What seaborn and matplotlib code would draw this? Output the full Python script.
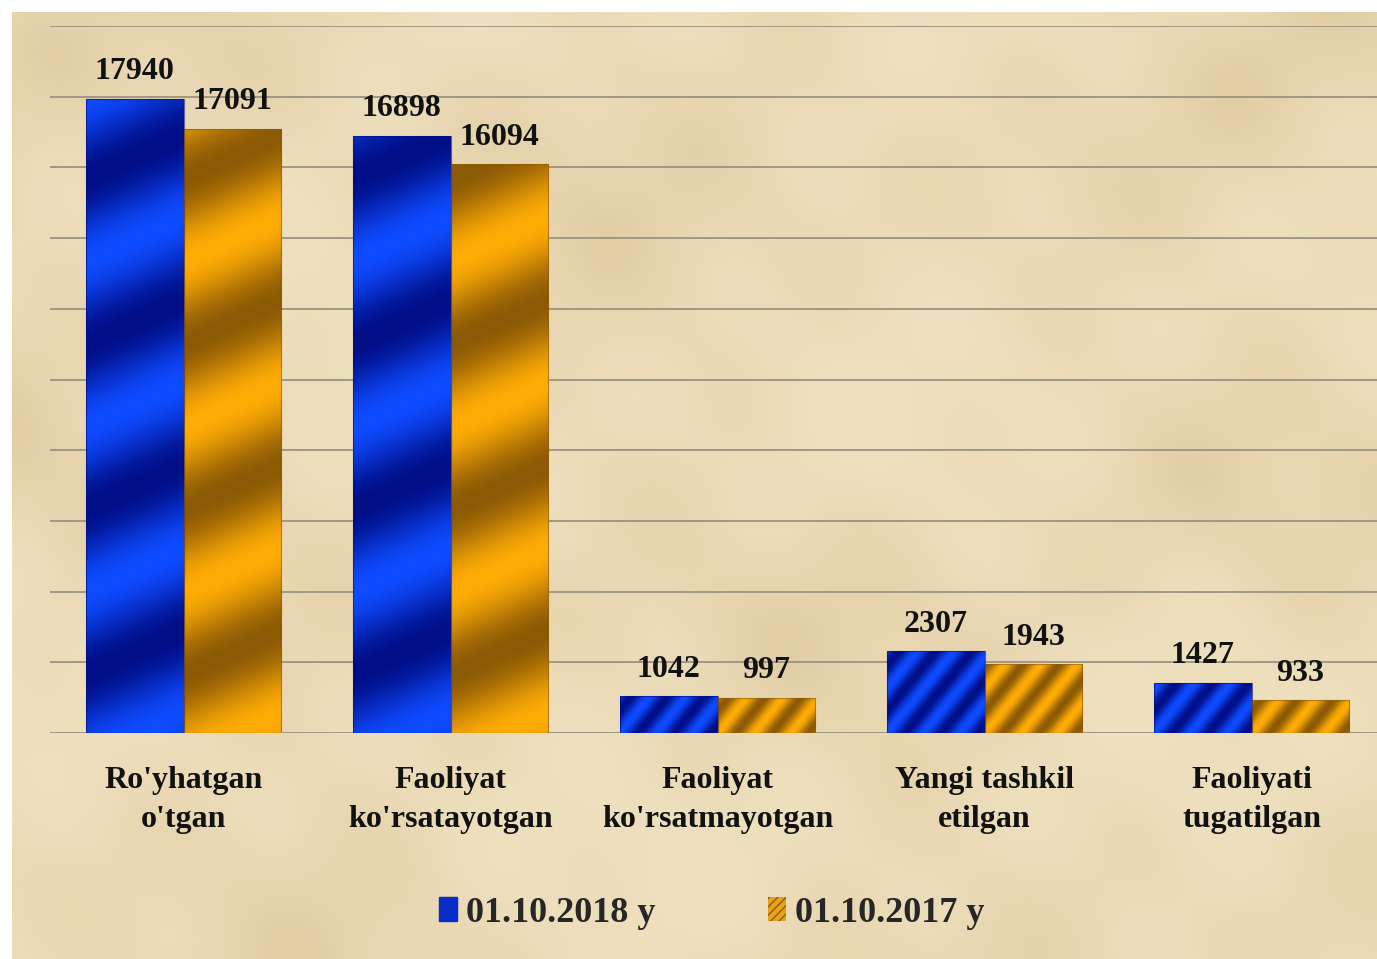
import numpy as np
import pandas as pd
import seaborn as sns
import matplotlib.pyplot as plt
from matplotlib.patches import Patch

# data
categories = ["Ro'yhatgan\no'tgan", "Faoliyat\nko'rsatayotgan", "Faoliyat\nko'rsatmayotgan",
              "Yangi tashkil\netilgan", "Faoliyati\ntugatilgan"]
periods = ["01.10.2018 y", "01.10.2017 y"]
values_2018 = [17940, 16898, 1042, 2307, 1427]
values_2017 = [17091, 16094, 997, 1943, 933]

df = pd.DataFrame({
    "category": categories * 2,
    "period": [periods[0]] * 5 + [periods[1]] * 5,
    "value": values_2018 + values_2017,
})

sns.set_theme(style="white")
plt.rcParams["font.family"] = ["Liberation Serif", "DejaVu Serif"]
plt.rcParams["font.weight"] = "bold"

W, H = 1377, 959
fig = plt.figure(figsize=(W / 100, H / 100), dpi=100, facecolor="white")

# parchment background
bg = fig.add_axes([12 / W, 0, 1 - 12 / W, 1 - 12 / H], zorder=-10)
yy, xx = np.mgrid[0:240, 0:340] / 40.0
mott = (np.sin(xx * 1.7 + np.sin(yy * 0.9) * 2) + np.sin(yy * 2.3 + np.cos(xx * 0.7) * 1.5)
        + 0.6 * np.sin(xx * 4.1 + yy * 3.3) + 0.5 * np.cos(xx * 5.3 - yy * 4.7)) / 3.1
base = np.array([239, 225, 192]) / 255
spot = np.array([226, 205, 164]) / 255
t = np.clip(0.5 + 0.5 * mott, 0, 1)[..., None] ** 1.6
bg.imshow(base * (1 - t) + spot * t, aspect="auto", interpolation="bicubic")
bg.axis("off")

ax = fig.add_axes([50 / W, (H - 733) / H, (W - 50) / W, (733 - 26) / H])
ax.set_facecolor("none")
sns.barplot(data=df, x="category", y="value", hue="period", palette=["#0033ee", "#f0a000"],
            width=0.73, gap=0, saturation=1, legend=False, ax=ax, zorder=3)

ax.set_ylim(0, 20000)
ax.set_xlim(-0.5, 4.47)
ax.set_yticks(range(0, 20001, 2000))
ax.set_yticklabels([])
ax.yaxis.grid(True, color="#9a9282", linewidth=1.3)
ax.xaxis.grid(False)
ax.set_axisbelow(True)
for s in ax.spines.values():
    s.set_visible(False)
ax.tick_params(axis="both", length=0)
ax.tick_params(axis="x", pad=24)
ax.set_xlabel("")
ax.set_ylabel("")
for lbl in ax.get_xticklabels():
    lbl.set_fontsize(23)
    lbl.set_fontweight("bold")
    lbl.set_linespacing(1.45)
    lbl.set_color("#111111")

# diagonal gradient stripes for each bar
shades = [((0, 14, 135), (15, 75, 255)), ((140, 90, 5), (255, 172, 5))]
for ci, cont in enumerate(ax.containers):
    dark = np.array(shades[ci][0]) / 255
    light = np.array(shades[ci][1]) / 255
    for bar in cont:
        bb = bar.get_window_extent()
        nx, ny = max(int(bb.width), 2), max(int(bb.height), 2)
        Y, X = np.mgrid[0:ny, 0:nx]
        if bb.height > 300:
            ph = Y / 165.0 - X / 360.0 + 0.15
        else:
            ph = Y / 44.0 - X / 36.0
        s = (0.5 + 0.5 * np.cos(2 * np.pi * ph))[..., None]
        img = dark * (1 - s) + light * s
        x0 = bar.get_x()
        im = ax.imshow(img, extent=(x0, x0 + bar.get_width(), 0, bar.get_height()),
                       origin="lower", aspect="auto", interpolation="bilinear", zorder=3)
        im.set_clip_path(bar)
        bar.set_facecolor("none")
        bar.set_edgecolor((*dark, 0.6))
        bar.set_linewidth(0.8)
        bar.set_zorder(4)
    ax.bar_label(cont, labels=[str(v) for v in (values_2018, values_2017)[ci]],
                 padding=9, fontsize=23, fontweight="bold", color="#111111")

ax.set_ylim(0, 20000)
ax.set_xlim(-0.5, 4.47)

handles = [Patch(facecolor="#0a2cc8", edgecolor="#0a2cc8"),
           Patch(facecolor="#e8a21a", edgecolor="#8a5a10", hatch="////", linewidth=0)]
fig.legend(handles, periods, loc="center", bbox_to_anchor=(0.517, 1 - 913 / H), ncol=2,
           frameon=False, handlelength=0.5, handleheight=0.65, handletextpad=0.25,
           columnspacing=3.1, prop={"size": 26, "weight": "bold"})

fig.savefig("out.png", dpi=100, facecolor="white")
